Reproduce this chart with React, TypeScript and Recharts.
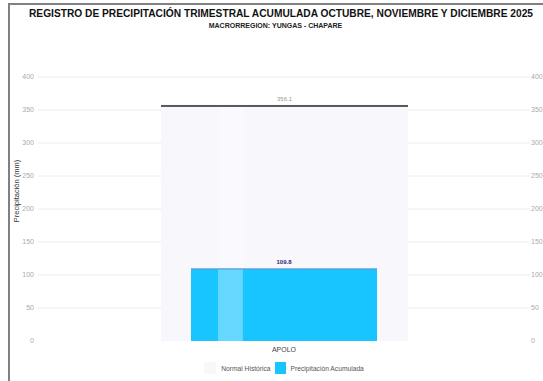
import React from 'react';
import {
  ComposedChart,
  Bar,
  XAxis,
  YAxis,
  CartesianGrid,
  Legend,
  LabelList,
} from 'recharts';

const estaciones = ['APOLO'];
const normalHistorica = [356.1];
const precipAcumulada = [109.8];
const yTicks = [0, 50, 100, 150, 200, 250, 300, 350, 400];
const gridValues = [50, 100, 150, 200, 250, 300, 350, 400];

const data = estaciones.map((name, i) => ({
  name,
  normal: normalHistorica[i],
  precip: precipAcumulada[i],
}));

const FONT = '"Liberation Sans", Arial, sans-serif';

const NormalShape = (props: any) => {
  const { x, y, width, height } = props;
  return (
    <g>
      <rect x={x} y={y} width={width} height={height} fill="#f7f7fc" />
      <rect x={x + width * 0.239} y={y} width={width * 0.097} height={height} fill="#fafafe" />
      <rect x={x} y={y - 1} width={width} height={2} fill="#5a5a5a" />
    </g>
  );
};

const PrecipShape = (props: any) => {
  const { x, y, width, height } = props;
  return (
    <g>
      <rect x={x} y={y} width={width} height={height} fill="#19c5ff" />
      <rect x={x + width * 0.145} y={y} width={width * 0.134} height={height} fill="#66d8ff" />
      <rect x={x} y={y} width={width} height={1} fill="#6f95cf" />
    </g>
  );
};

const renderLegend = () => (
  <div
    style={{
      display: 'flex',
      justifyContent: 'center',
      alignItems: 'center',
      fontFamily: FONT,
      fontSize: 6.7,
      color: '#555',
      gap: 4,
      paddingLeft: 17,
    }}
  >
    <span style={{ display: 'flex', alignItems: 'center' }}>
      <span style={{ width: 12, height: 12, background: '#f7f7fc', marginRight: 5 }} />
      Normal Histórica
    </span>
    <span style={{ display: 'flex', alignItems: 'center' }}>
      <span style={{ width: 11, height: 12, background: '#19c5ff', marginRight: 5 }} />
      Precipitación Acumulada
    </span>
  </div>
);

export default function App() {
  return (
    <div style={{ position: 'absolute', left: 0, top: 0, width: 543, height: 381, background: '#fff', overflow: 'hidden' }}>
      <div
        style={{
          position: 'absolute',
          left: 8,
          top: 3,
          width: 600,
          height: 400,
          borderLeft: '2px solid #808080',
          borderTop: '2px solid #808080',
        }}
      />
      <div
        style={{
          position: 'absolute',
          left: 0,
          top: 8,
          width: 562,
          textAlign: 'center',
          fontFamily: FONT,
          fontWeight: 'bold',
          fontSize: 10.2,
          color: '#111',
          whiteSpace: 'nowrap',
        }}
      >
        REGISTRO DE PRECIPITACIÓN TRIMESTRAL ACUMULADA OCTUBRE, NOVIEMBRE Y DICIEMBRE 2025
      </div>
      <div
        style={{
          position: 'absolute',
          left: 0,
          top: 22,
          width: 551,
          textAlign: 'center',
          fontFamily: FONT,
          fontWeight: 'bold',
          fontSize: 7,
          color: '#222',
        }}
      >
        MACRORREGION: YUNGAS - CHAPARE
      </div>
      <div style={{ position: 'absolute', left: 0, top: 0 }}>
        <ComposedChart
          width={543}
          height={381}
          data={data}
          margin={{ top: 77, right: 0, bottom: 1, left: 8 }}
          style={{ fontFamily: FONT }}
        >
          <CartesianGrid
            xAxisId="n"
            yAxisId="l"
            vertical={false}
            stroke="#ececec"
            horizontalValues={gridValues}
          />
          <XAxis
            xAxisId="n"
            dataKey="name"
            axisLine={false}
            tickLine={false}
            height={21}
            tick={{ fontSize: 7, fill: '#444' }}
            tickMargin={0}
          />
          <XAxis xAxisId="p" dataKey="name" hide />
          <YAxis
            yAxisId="l"
            domain={[0, 400]}
            ticks={yTicks}
            width={30}
            axisLine={false}
            tickLine={false}
            tickMargin={-2}
            tick={{ fontSize: 7, fill: '#aaa' }}
            label={{
              value: 'Precipitación (mm)',
              angle: -90,
              position: 'insideLeft',
              offset: 8,
              dy: -18,
              style: { fontSize: 7.5, fill: '#333', textAnchor: 'middle' },
            }}
          />
          <YAxis
            yAxisId="r"
            orientation="right"
            domain={[0, 400]}
            ticks={yTicks}
            width={13}
            axisLine={false}
            tickLine={false}
            tickMargin={-5}
            tick={{ fontSize: 7, fill: '#aaa' }}
          />
          <Legend verticalAlign="bottom" height={18} content={renderLegend} />
          <Bar
            xAxisId="n"
            yAxisId="l"
            dataKey="normal"
            name="Normal Histórica"
            barSize={247}
            shape={NormalShape}
            isAnimationActive={false}
          >
            <LabelList dataKey="normal" position="top" offset={5} style={{ fontSize: 6, fill: '#999' }} />
          </Bar>
          <Bar
            xAxisId="p"
            yAxisId="r"
            dataKey="precip"
            name="Precipitación Acumulada"
            barSize={186}
            shape={PrecipShape}
            isAnimationActive={false}
          >
            <LabelList
              dataKey="precip"
              position="top"
              offset={5}
              style={{ fontSize: 6, fill: '#2a2a7a', fontWeight: 'bold' }}
            />
          </Bar>
        </ComposedChart>
      </div>
    </div>
  );
}
